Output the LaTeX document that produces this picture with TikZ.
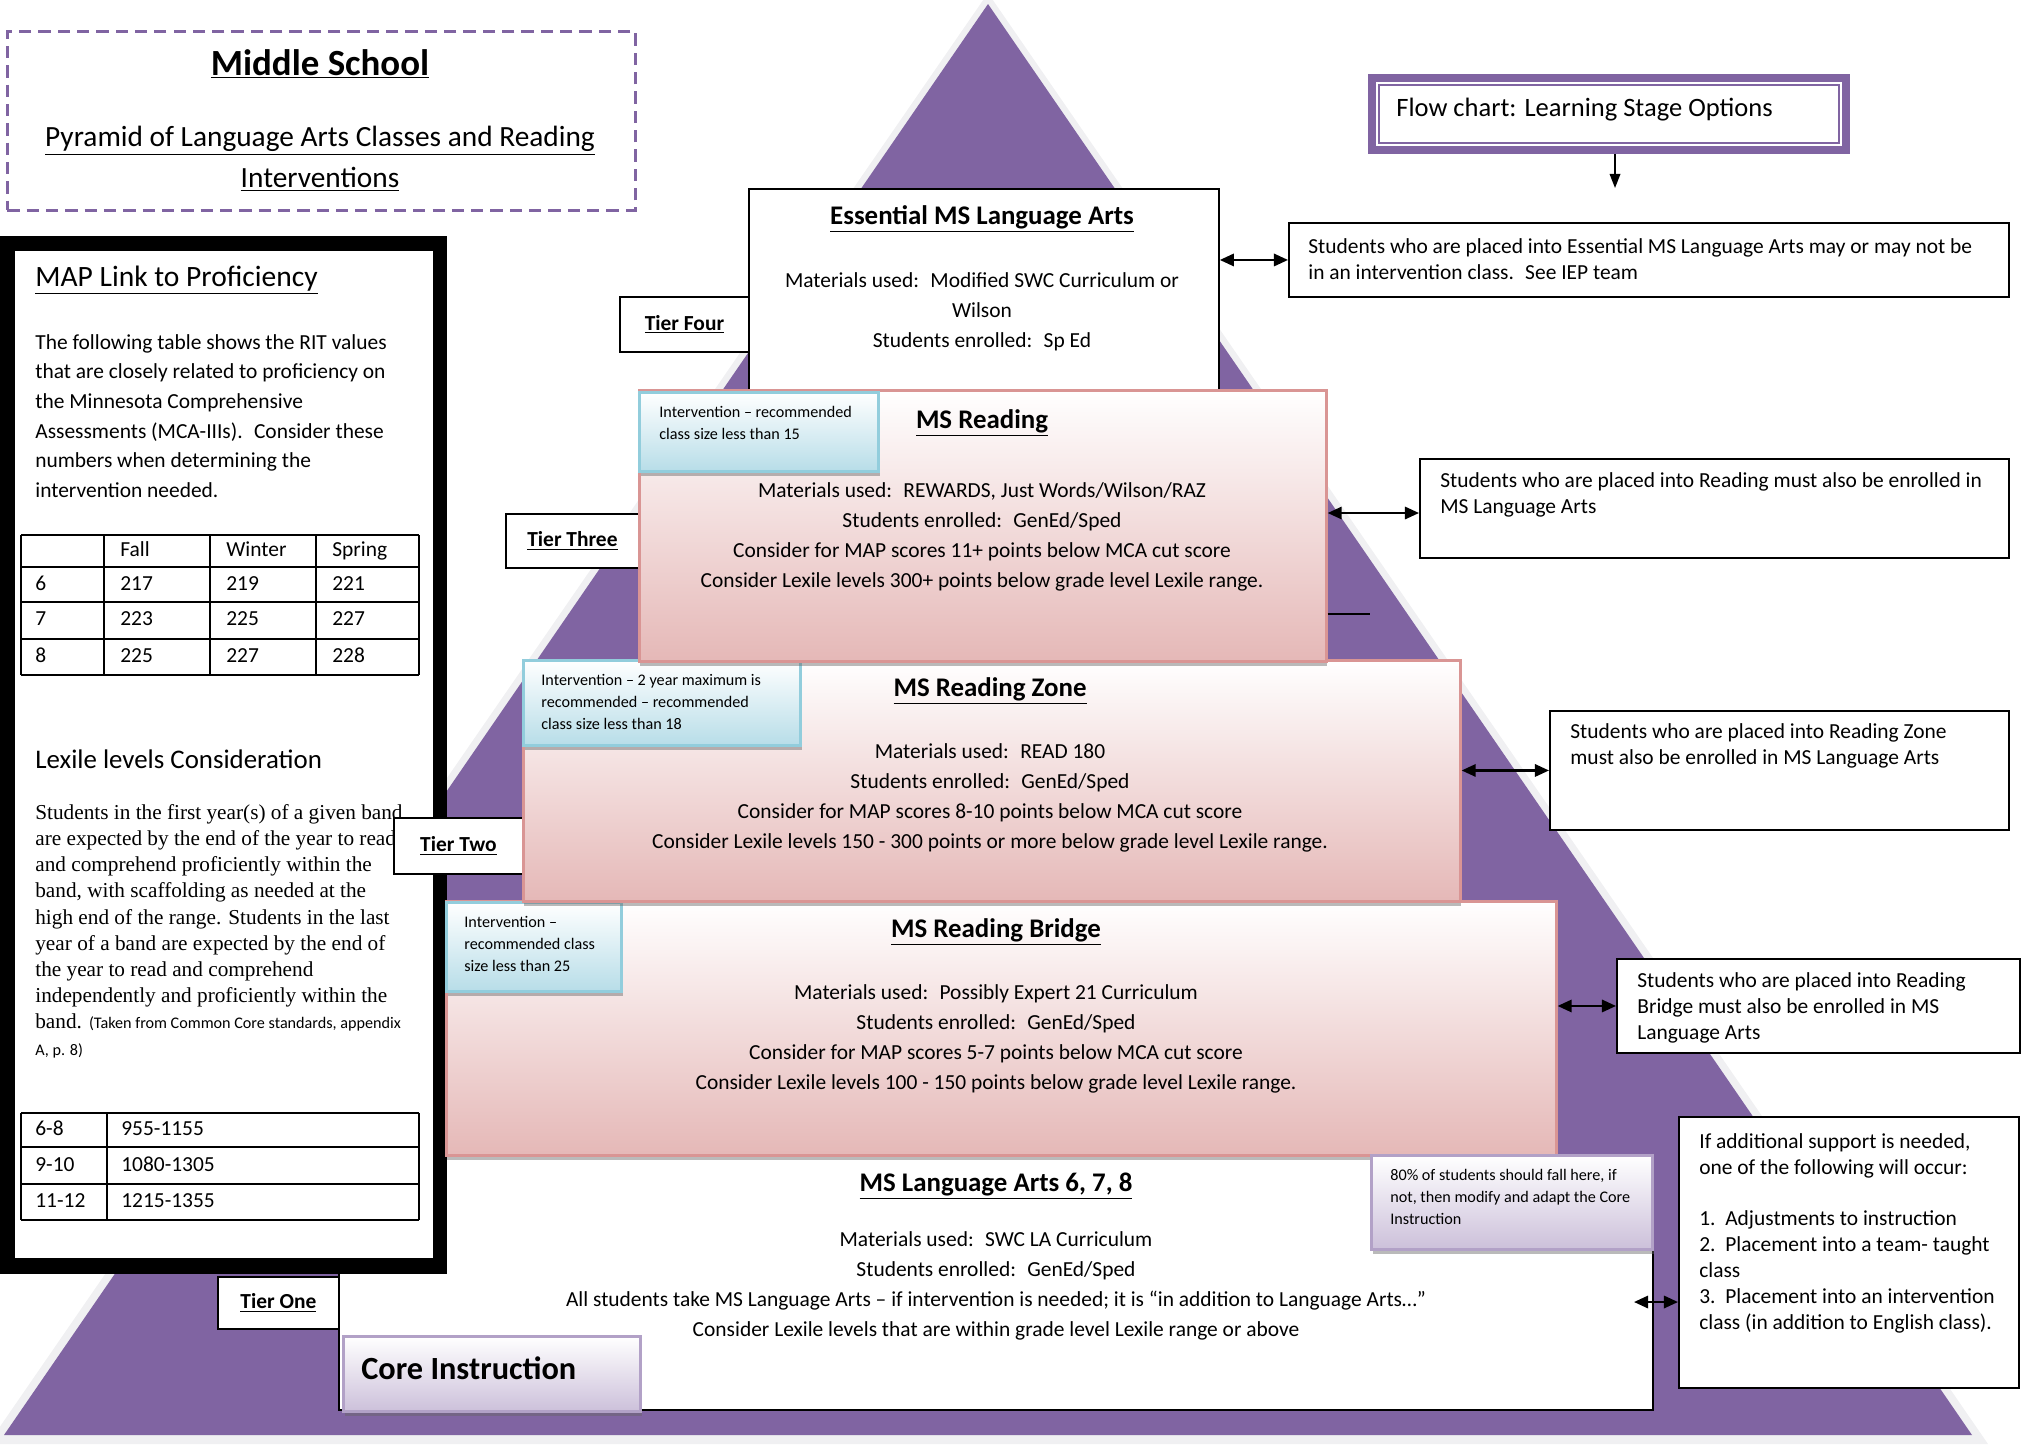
\documentclass[tikz,border=0pt]{standalone}
\usepackage{fontspec}
\setmainfont{Carlito}
\newfontfamily\timesfont{Liberation Serif}
\usetikzlibrary{positioning,shadows,arrows.meta}

\definecolor{pyrpurple}{RGB}{128,100,162}
\definecolor{pyrshade}{RGB}{240,240,242}
\definecolor{pinkline}{RGB}{217,149,148}
\definecolor{pinkbot}{RGB}{229,184,183}
\definecolor{blueline}{RGB}{146,205,220}
\definecolor{bluebot}{RGB}{183,221,232}
\definecolor{lavline}{RGB}{178,161,199}
\definecolor{lavbot}{RGB}{204,192,218}

\tikzset{
  levelbox/.style={draw=pinkline, line width=1.6pt, top color=white, bottom color=pinkbot,
    anchor=north west, inner sep=0pt,
    drop shadow={shadow xshift=0.5pt, shadow yshift=-2.8pt, opacity=.45, fill=black!60}},
  introbox/.style={draw=blueline, line width=1.8pt, top color=white, bottom color=bluebot,
    anchor=north west, inner sep=0pt,
    drop shadow={shadow xshift=1pt, shadow yshift=-2.5pt, opacity=.45, fill=black!60}},
  lavbox/.style={draw=lavline, line width=1.6pt, top color=white, bottom color=lavbot,
    anchor=north west, inner sep=0pt,
    drop shadow={shadow xshift=1pt, shadow yshift=-2.5pt, opacity=.45, fill=black!60}},
  plainbox/.style={draw=black, line width=1.1pt, fill=white, anchor=north west, inner sep=0pt},
  tierbox/.style={plainbox, font=\fontsize{12.2}{14}\selectfont\bfseries},
  leveltitle/.style={font=\fontsize{15.3}{18}\selectfont\bfseries, inner sep=0pt},
  levelbody/.style={font=\fontsize{12.2}{17}\selectfont, align=center, inner sep=0pt},
  notetext/.style={font=\fontsize{12.2}{14.7}\selectfont, align=left, anchor=west, inner sep=0pt},
  smalltext/.style={font=\fontsize{9.2}{12.6}\selectfont, align=left, anchor=west, inner sep=0pt},
  paneltext/.style={font=\fontsize{12.2}{16.9}\selectfont, align=left, anchor=west, inner sep=0pt},
  panelhead/.style={font=\fontsize{16.8}{19}\selectfont, anchor=west, inner sep=0pt},
  cell/.style={font=\fontsize{12.2}{14}\selectfont, anchor=west, inner sep=0pt, text height=1.6ex, text depth=.3ex},
  tabline/.style={line width=1.4pt},
  dblarrow/.style={{Triangle[length=8pt,width=7pt]}-{Triangle[length=8pt,width=7pt]}, line width=1.3pt},
}

\begin{document}
\begin{tikzpicture}[x=0.02cm, y=-0.02cm]
\useasboundingbox (0,0) rectangle (2021,1445);

% pyramid
\fill[pyrshade] (988,-7) -- (1988,1444) -- (-12,1444) -- cycle;
\fill[pyrpurple] (988,4) -- (1972,1435) -- (4,1435) -- cycle;

% tier one level
\node[plainbox, minimum width=26.28cm, minimum height=5.1cm] (core) at (338,1154) {};
\node[leveltitle] (coretitle) at (996,1186) {\underline{MS Language Arts 6, 7, 8}};
\node[levelbody] (corebody) at (996,1286) {Materials used:~ SWC LA Curriculum\\
  Students enrolled:~ GenEd/Sped\\
  All students take MS Language Arts – if intervention is needed; it is “in addition to Language Arts…”\\
  Consider Lexile levels that are within grade level Lexile range or above};
\node[lavbox, minimum width=5.94cm, minimum height=1.5cm] (coreinstr) at (342,1335) {};
\node[font=\fontsize{18.4}{21}\selectfont\bfseries, anchor=west, inner sep=0pt] (coreinstrtext) at (361,1368) {Core Instruction};

% left panel
\fill[black] (0,236) rectangle (447,1274);
\fill[white] (15,251) rectangle (433,1258);
\node[panelhead] (maphead) at (35,280) {\underline{MAP Link to Proficiency}};
\node[paneltext] (mappara) at (35,416) {The following table shows the RIT values\\
  that are closely related to proficiency on\\
  the Minnesota Comprehensive\\
  Assessments (MCA-IIIs).~ Consider these\\
  numbers when determining the\\
  intervention needed.};
\foreach \x in {21,104,210,316,419} \draw[tabline] (\x,535) -- (\x,675);
\foreach \y in {535,567,602,639,675} \draw[tabline] (21,\y) -- (419,\y);
\node[cell] (rithead-1) at (120,551) {Fall};
\node[cell] (rithead-2) at (226,551) {Winter};
\node[cell] (rithead-3) at (332,551) {Spring};
\foreach \g/\ry/\fa/\wi/\sp in {6/585/217/219/221, 7/620/223/225/227, 8/657/225/227/228}{
  \node[cell] (rit-\g-0) at (35,\ry) {\g};
  \node[cell] (rit-\g-1) at (120,\ry) {\fa};
  \node[cell] (rit-\g-2) at (226,\ry) {\wi};
  \node[cell] (rit-\g-3) at (332,\ry) {\sp};
}
\node[panelhead, font=\fontsize{15.3}{18}\selectfont] (lexhead) at (35,759) {Lexile levels Consideration};
\node[paneltext, font=\timesfont\fontsize{12.1}{14.9}\selectfont] (lexpara) at (35,931) {Students in the first year(s) of a given band\\
  are expected by the end of the year to read\\
  and comprehend proficiently within the\\
  band, with scaffolding as needed at the\\
  high end of the range. Students in the last\\
  year of a band are expected by the end of\\
  the year to read and comprehend\\
  independently and proficiently within the\\
  band. {\normalfont\fontsize{9.2}{10}\selectfont(Taken from Common Core standards, appendix}\\
  {\normalfont\fontsize{9.2}{10}\selectfont A, p. 8)}};
\foreach \x in {21,107,419} \draw[tabline] (\x,1113) -- (\x,1220);
\foreach \y in {1113,1147,1184,1220} \draw[tabline] (21,\y) -- (419,\y);
\foreach \n/\band/\lex/\ry in {1/6-8/955-1155/1130, 2/9-10/1080-1305/1166, 3/11-12/1215-1355/1202}{
  \node[cell] (lex-\n-0) at (35,\ry) {\band};
  \node[cell] (lex-\n-1) at (121,\ry) {\lex};
}

% tier labels under the levels
\node[tierbox, minimum width=2.42cm, minimum height=1.04cm] (tierone) at (217,1276) {\underline{Tier One}};
\node[tierbox, minimum width=2.58cm, minimum height=1.12cm] (tiertwo) at (393,817) {\underline{Tier Two}};

% tier two level
\node[levelbox, minimum width=22.2cm, minimum height=5.08cm] (bridge) at (445,900) {};
\node[introbox, minimum width=3.5cm, minimum height=1.78cm] (bridgeint) at (445,901) {};
\node[smalltext] (bridgeinttext) at (464,944) {Intervention –\\ recommended class\\ size less than 25};
\node[leveltitle] (bridgetitle) at (996,932) {\underline{MS Reading Bridge}};
\node[levelbody] (bridgebody) at (996,1039) {Materials used:~ Possibly Expert 21 Curriculum\\
  Students enrolled:~ GenEd/Sped\\
  Consider for MAP scores 5-7 points below MCA cut score\\
  Consider Lexile levels 100 - 150 points below grade level Lexile range.};
\node[lavbox, minimum width=5.62cm, minimum height=1.88cm] (corenote) at (1370,1154) {};
\node[smalltext] (corenotetext) at (1390,1197) {80\% of students should fall here, if\\
  not, then modify and adapt the Core\\ Instruction};

\node[levelbox, minimum width=18.74cm, minimum height=4.82cm] (zone) at (522,659) {};
\node[introbox, minimum width=5.54cm, minimum height=1.7cm] (zoneint) at (522,659) {};
\node[smalltext] (zoneinttext) at (541,702) {Intervention – 2 year maximum is\\
  recommended – recommended\\ class size less than 18};
\node[leveltitle] (zonetitle) at (990,691) {\underline{MS Reading Zone}};
\node[levelbody] (zonebody) at (990,798) {Materials used:~ READ 180\\
  Students enrolled:~ GenEd/Sped\\
  Consider for MAP scores 8-10 points below MCA cut score\\
  Consider Lexile levels 150 - 300 points or more below grade level Lexile range.};

% tier four level
\node[tierbox, minimum width=2.58cm, minimum height=1.1cm] (tierfour) at (619,296) {\underline{Tier Four}};
\node[plainbox, minimum width=9.4cm, minimum height=4.3cm] (essential) at (748,188) {};
\node[leveltitle] (essentialtitle) at (982,219) {\underline{Essential MS Language Arts}};
\node[levelbody] (essentialbody) at (982,312) {Materials used:~ Modified SWC Curriculum or\\
  Wilson\\ Students enrolled:~ Sp Ed};

% tier three level
\node[tierbox, minimum width=2.66cm, minimum height=1.08cm] (tierthree) at (505,513) {\underline{Tier Three}};
\node[levelbox, minimum width=13.74cm, minimum height=5.42cm] (reading) at (638,389) {};
\node[introbox, minimum width=4.78cm, minimum height=1.58cm] (readingint) at (638,391) {};
\node[smalltext] (readinginttext) at (659,423) {Intervention – recommended\\ class size less than 15};
\node[leveltitle] (readingtitle) at (982,423) {\underline{MS Reading}};
\node[levelbody] (readingbody) at (982,537) {Materials used:~ REWARDS, Just Words/Wilson/RAZ\\
  Students enrolled:~ GenEd/Sped\\
  Consider for MAP scores 11+ points below MCA cut score\\
  Consider Lexile levels 300+ points below grade level Lexile range.};
\coordinate (strayend) at (1370,614);
\draw[line width=1.2pt] (strayend -| reading.east) -- (strayend);

% notes on the right
\node[plainbox, minimum width=14.4cm, minimum height=1.48cm] (noteone) at (1288,222) {};
\node[notetext] (noteonetext) at (1308,259) {Students who are placed into Essential MS Language Arts may or may not be\\
  in an intervention class.~ See IEP team};
\node[plainbox, minimum width=11.78cm, minimum height=1.98cm] (notetwo) at (1419,458) {};
\node[notetext] (notetwotext) at (1440,495) {Students who are placed into Reading must also be enrolled in\\ MS Language Arts};
\node[plainbox, minimum width=9.18cm, minimum height=2.38cm] (notethree) at (1549,710) {};
\node[notetext] (notethreetext) at (1570,746) {Students who are placed into Reading Zone\\ must also be enrolled in MS Language Arts};
\node[plainbox, minimum width=8.06cm, minimum height=1.88cm] (notefour) at (1616,958) {};
\node[notetext] (notefourtext) at (1637,1008) {Students who are placed into Reading\\ Bridge must also be enrolled in MS\\ Language Arts};
\node[plainbox, minimum width=6.8cm, minimum height=5.42cm] (notefive) at (1678,1116) {};
\node[notetext] (notefivetext) at (1699,1233) {If additional support is needed,\\
  one of the following will occur:\\[14.7pt]
  1.\ \ Adjustments to instruction\\
  2.\ \ Placement into a team- taught\\ class\\
  3.\ \ Placement into an intervention\\ class (in addition to English class).};

\draw[dblarrow] (noteone.west -| essential.east) -- (noteone.west);
\coordinate (readingport) at (1419,513);
\draw[dblarrow] (readingport -| reading.east) -- (readingport);
\draw[dblarrow] (notethree.west -| zone.east) -- (notethree.west);
\draw[dblarrow] (notefour.west -| bridge.east) -- (notefour.west);
\coordinate (coreport) at (1634,1302);
\draw[dblarrow] (coreport) -- (coreport -| notefive.west);

% flow chart header
\node[draw=pyrpurple, line width=4.5pt, fill=white, minimum width=9.48cm, minimum height=1.44cm, anchor=north west] (flow) at (1368,74) {};
\draw[pyrpurple, line width=1.4pt] ([shift={(11,11)}]flow.north west) rectangle ([shift={(-11,-11)}]flow.south east);
\node[font=\fontsize{15.1}{18}\selectfont, anchor=west, inner sep=0pt] (flowtext) at (1396,110) {Flow chart: Learning Stage Options};
\coordinate (flowtip) at (1615,188);
\draw[-{Triangle[length=8pt,width=6pt]}, line width=1pt] (flowtip |- flow.south) -- (flowtip);

% title
\node[draw=pyrpurple, dash pattern=on 7pt off 4pt, line width=1.5pt, minimum width=12.56cm, minimum height=3.58cm, anchor=north west] (titlebox) at (6,30) {};
\node[font=\fontsize{21}{25}\selectfont\bfseries, inner sep=0pt] (mstitle) at (320,64) {\underline{Middle School}};
\node[font=\fontsize{16.7}{23.2}\selectfont, align=center, inner sep=0pt] (pyrtitle) at (320,159) {\underline{Pyramid of Language Arts Classes and Reading}\\ \underline{Interventions}};
\end{tikzpicture}
\end{document}
